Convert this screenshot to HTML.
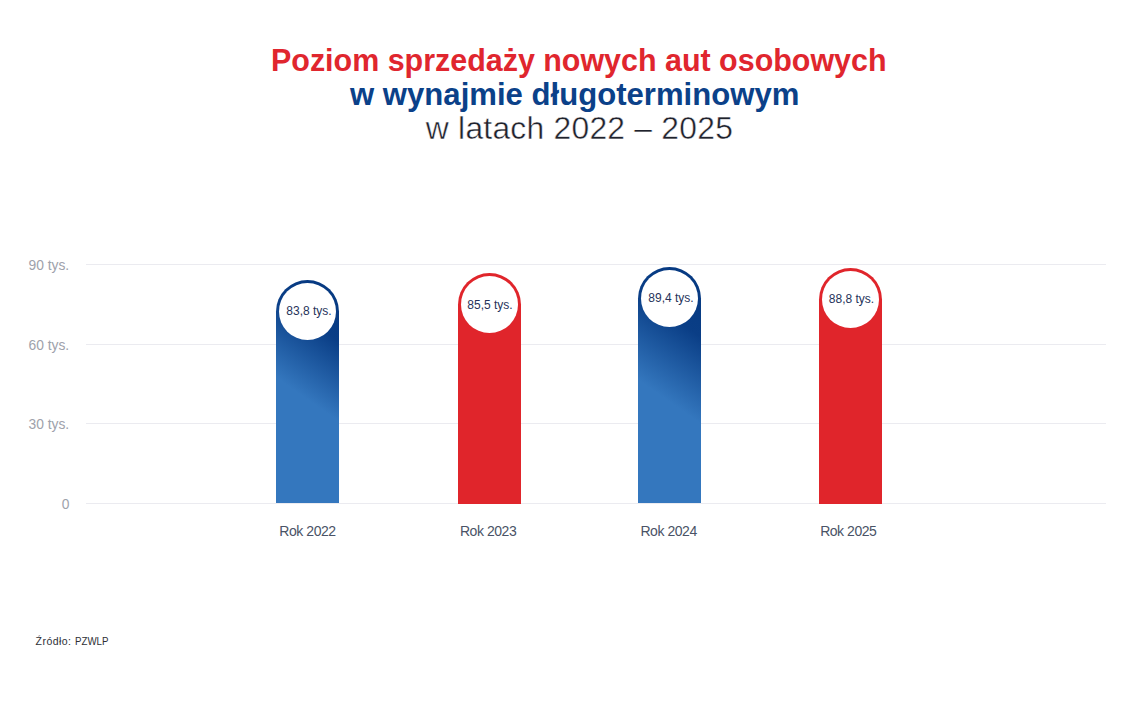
<!DOCTYPE html>
<html lang="pl">
<head>
<meta charset="utf-8">
<title>Poziom sprzedaży nowych aut osobowych w wynajmie długoterminowym</title>
<style>
html,body{margin:0;padding:0;background:#fff;}
body{width:1140px;height:722px;position:relative;overflow:hidden;font-family:"Liberation Sans",sans-serif;}
.t{position:absolute;white-space:nowrap;line-height:1;}
.title1{left:271px;top:44.3px;font-size:32px;font-weight:bold;color:#e0262e;transform:scaleX(0.951);transform-origin:0 0;}
.title2{left:350px;top:77.8px;font-size:32px;font-weight:bold;color:#0b4189;transform:scaleX(0.972);transform-origin:0 0;}
.title3{left:425.8px;letter-spacing:0.25px;top:112.6px;font-size:31.8px;font-weight:normal;color:#1f222c;-webkit-text-stroke:0.45px #fff;}
.grid{position:absolute;left:86px;width:1020px;height:1px;background:#ebebf0;}
.ylab{position:absolute;right:1071px;font-size:15px;color:#9ea2ab;line-height:1;white-space:nowrap;transform:scaleX(0.922);transform-origin:100% 0;}
.bar{position:absolute;width:63px;border-radius:31.5px 31.5px 0 0;}
.blue{background:linear-gradient(215deg,#053880 0%,#0a3e86 23%,#3477be 53%,#3477be 100%);}
.red{background:#e0252b;}
.circ{position:absolute;width:57px;height:57px;border-radius:50%;background:#fff;}
.val{position:absolute;width:80px;text-align:center;font-size:12px;color:#26335a;line-height:1;white-space:nowrap;}
.cat{position:absolute;width:100px;text-align:center;font-size:14px;letter-spacing:-0.45px;color:#4a5366;line-height:1;white-space:nowrap;}
.src{position:absolute;left:35.6px;top:635.8px;font-size:10.5px;letter-spacing:0.45px;color:#2d2f36;line-height:1;white-space:nowrap;}
</style>
</head>
<body>
<div class="t title1">Poziom sprzedaży nowych aut osobowych</div>
<div class="t title2">w wynajmie długoterminowym</div>
<div class="t title3">w latach 2022 – 2025</div>

<div class="grid" style="top:264px"></div>
<div class="grid" style="top:344px"></div>
<div class="grid" style="top:423px"></div>
<div class="grid" style="top:503px"></div>

<div class="ylab" style="top:256.9px">90 tys.</div>
<div class="ylab" style="top:336.6px">60 tys.</div>
<div class="ylab" style="top:416.1px">30 tys.</div>
<div class="ylab" style="top:496.4px">0</div>

<div class="bar blue" style="left:276px;top:279.5px;height:223.5px"></div>
<div class="bar red" style="left:458px;top:273.2px;height:230.8px"></div>
<div class="bar blue" style="left:638px;top:266.8px;height:236.2px;background:linear-gradient(215deg,#053880 0%,#0a3e86 25%,#3477be 56%,#3477be 100%)"></div>
<div class="bar red" style="left:819px;top:268.2px;height:235.8px"></div>

<div class="circ" style="left:279px;top:282.5px"></div>
<div class="circ" style="left:461px;top:276.2px"></div>
<div class="circ" style="left:641px;top:269.8px"></div>
<div class="circ" style="left:822px;top:271.2px"></div>

<div class="val" style="left:269px;top:305px">83,8 tys.</div>
<div class="val" style="left:450px;top:299.2px">85,5 tys.</div>
<div class="val" style="left:631px;top:291.8px">89,4 tys.</div>
<div class="val" style="left:811.5px;top:293.3px">88,8 tys.</div>

<div class="cat" style="left:257.5px;top:524.2px">Rok 2022</div>
<div class="cat" style="left:438.1px;top:524.2px">Rok 2023</div>
<div class="cat" style="left:618.6px;top:524.2px">Rok 2024</div>
<div class="cat" style="left:798.3px;top:524.2px">Rok 2025</div>

<div class="src">Źródło:</div><div class="src" style="left:74.8px;letter-spacing:0;transform:scaleX(0.925);transform-origin:0 0">PZWLP</div>
</body>
</html>
